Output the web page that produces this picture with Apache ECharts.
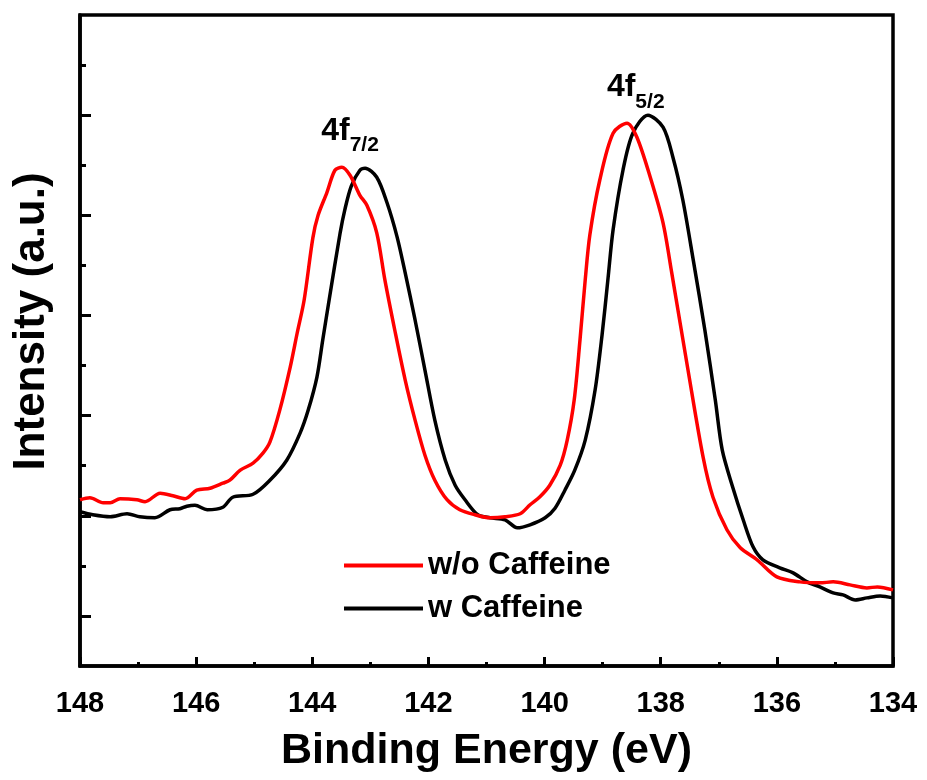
<!DOCTYPE html>
<html>
<head>
<meta charset="utf-8">
<script src="https://cdn.jsdelivr.net/npm/echarts@6/dist/echarts.min.js"></script>
<style>
html,body{margin:0;padding:0;background:#fff;}
#c{width:927px;height:780px;}
</style>
</head>
<body>
<div id="c"></div>
<script>
// Binding energy (eV) and intensity (a.u.)
const woEnergy = [148.00,147.83,147.60,147.48,147.31,147.02,146.88,146.62,146.40,146.19,145.99,145.76,145.54,145.42,145.24,145.02,144.85,144.73,144.56,144.38,144.26,144.14,143.99,143.90,143.75,143.61,143.49,143.35,143.18,143.06,142.89,142.75,142.58,142.40,142.23,142.06,141.89,141.68,141.46,141.20,140.94,140.68,140.42,140.25,140.08,139.91,139.73,139.61,139.49,139.39,139.30,139.22,139.05,138.82,138.58,138.41,138.18,137.96,137.81,137.53,137.27,137.10,136.86,136.63,136.34,136.00,135.60,135.26,135.03,134.74,134.45,134.27,134.00];
const woIntensity = [3.32,3.36,3.26,3.26,3.34,3.32,3.28,3.45,3.40,3.34,3.51,3.55,3.65,3.71,3.91,4.05,4.25,4.47,5.11,5.97,6.65,7.31,8.55,9.00,9.45,9.90,9.96,9.80,9.40,9.20,8.65,7.71,6.71,5.71,4.91,4.21,3.71,3.32,3.12,3.02,2.96,2.98,3.04,3.22,3.38,3.61,4.01,4.51,5.31,6.51,7.71,8.61,9.70,10.64,10.84,10.56,9.76,8.85,7.85,5.91,4.17,3.37,2.72,2.36,2.12,1.78,1.68,1.66,1.68,1.62,1.56,1.58,1.52];

const wEnergy = [148.00,147.78,147.48,147.19,146.97,146.71,146.45,146.28,146.16,146.02,145.81,145.54,145.37,145.02,144.73,144.44,144.21,144.07,143.92,143.82,143.71,143.52,143.44,143.33,143.18,143.09,142.89,142.71,142.54,142.40,142.23,142.06,141.89,141.71,141.54,141.37,141.15,140.94,140.68,140.47,140.25,139.99,139.82,139.65,139.48,139.30,139.13,139.01,138.91,138.82,138.65,138.48,138.22,137.96,137.79,137.62,137.44,137.24,137.06,136.94,136.76,136.58,136.41,136.24,135.95,135.72,135.48,135.26,135.03,134.86,134.65,134.45,134.22,134.00];
const wIntensity = [3.08,3.02,2.98,3.04,2.98,2.96,3.12,3.14,3.19,3.21,3.12,3.17,3.37,3.43,3.71,4.11,4.65,5.11,5.77,6.51,7.31,8.65,9.11,9.58,9.90,9.94,9.76,9.24,8.57,7.85,6.91,5.91,4.91,4.11,3.61,3.32,3.02,2.96,2.92,2.76,2.82,2.96,3.15,3.51,3.91,4.51,5.51,6.61,7.71,8.71,9.90,10.64,11.00,10.76,10.16,9.31,8.11,6.71,5.31,4.31,3.57,2.92,2.38,2.12,1.96,1.86,1.68,1.58,1.46,1.42,1.32,1.36,1.40,1.36];

const seriesNames = ['w/o Caffeine', 'w Caffeine'];
const seriesColors = ['#ff0000', '#000000'];
const xTicks = [148, 146, 144, 142, 140, 138, 136, 134];
const yMajorTicks = [1, 3, 5, 7, 9, 11];
const yMinorTicks = [2, 4, 6, 8, 10, 12];
const peakLabels = [
  {main: '4f', sub: '7/2', coord: [143.35, 10.6]},
  {main: '4f', sub: '5/2', coord: [138.43, 11.46]}
];

const FONT = '"Liberation Sans", Arial, sans-serif';
function pairs(xs, ys){ return xs.map((x,i)=>[x, ys[i]]); }

const chart = echarts.init(document.getElementById('c'), null, {renderer:'canvas'});
chart.setOption({
  backgroundColor: '#fff',
  animation: false,
  grid: {left: 80, right: 34, top: 15, bottom: 114, show: true, borderColor: '#000', borderWidth: 3.5, backgroundColor: 'transparent'},
  xAxis: {
    type: 'value', inverse: true, min: xTicks[xTicks.length-1], max: xTicks[0], interval: 2,
    axisLine: {show: true, lineStyle: {color: '#000', width: 3.5}},
    axisTick: {show: true, inside: true, length: 9, lineStyle: {color: '#000', width: 3}},
    minorTick: {show: true, splitNumber: 2, length: 4, lineStyle: {color: '#000', width: 3}},
    splitLine: {show: false},
    axisLabel: {color: '#000', fontSize: 29, fontWeight: 'bold', fontFamily: FONT, margin: 23},
    name: 'Binding Energy (eV)', nameLocation: 'middle', nameGap: 64,
    nameTextStyle: {color: '#000', fontSize: 43, fontWeight: 'bold', fontFamily: FONT}
  },
  yAxis: [{
    type: 'value', min: 0, max: 13,
    axisLine: {show: true, lineStyle: {color: '#000', width: 3.5}},
    axisTick: {show: true, inside: true, length: 11, customValues: yMajorTicks, lineStyle: {color: '#000', width: 3}},
    axisLabel: {show: false},
    splitLine: {show: false},
    name: 'Intensity (a.u.)', nameLocation: 'middle', nameGap: 26, nameRotate: 90,
    nameTextStyle: {color: '#000', fontSize: 44, fontWeight: 'bold', fontFamily: FONT, padding: [0, 0, 0, 38]}
  }, {
    type: 'value', min: 0, max: 13, position: 'left',
    axisLine: {show: false},
    axisTick: {show: true, inside: true, length: 6, customValues: yMinorTicks, lineStyle: {color: '#000', width: 3}},
    axisLabel: {show: false},
    splitLine: {show: false}
  }],
  legend: {
    orient: 'vertical', left: 339, top: 545,
    icon: 'rect', itemWidth: 79, itemHeight: 4, itemGap: 12,
    textStyle: {color: '#000', fontSize: 31, fontWeight: 'bold', fontFamily: FONT, lineHeight: 31},
    data: seriesNames
  },
  series: [{
    name: seriesNames[0], type: 'line', symbol: 'none', smooth: 0.3,
    data: pairs(woEnergy, woIntensity),
    lineStyle: {color: seriesColors[0], width: 3.5}, itemStyle: {color: seriesColors[0]}, z: 3,
    markPoint: {
      symbol: 'circle', symbolSize: 0,
      data: peakLabels.map(p => ({coord: p.coord, value: p.main,
        label: {show: true, position: 'inside', formatter: '{a|' + p.main + '}{b|' + p.sub + '}'}})),
      label: {
        rich: {
          a: {fontSize: 32, fontWeight: 'bold', fontFamily: FONT, color: '#000', verticalAlign: 'top', padding: [0,0,9,0]},
          b: {fontSize: 21, fontWeight: 'bold', fontFamily: FONT, color: '#000', verticalAlign: 'bottom'}
        }
      }
    }
  }, {
    name: seriesNames[1], type: 'line', symbol: 'none', smooth: 0.3,
    data: pairs(wEnergy, wIntensity),
    lineStyle: {color: seriesColors[1], width: 3.5}, itemStyle: {color: seriesColors[1]}, z: 2
  }]
});
</script>
</body>
</html>
